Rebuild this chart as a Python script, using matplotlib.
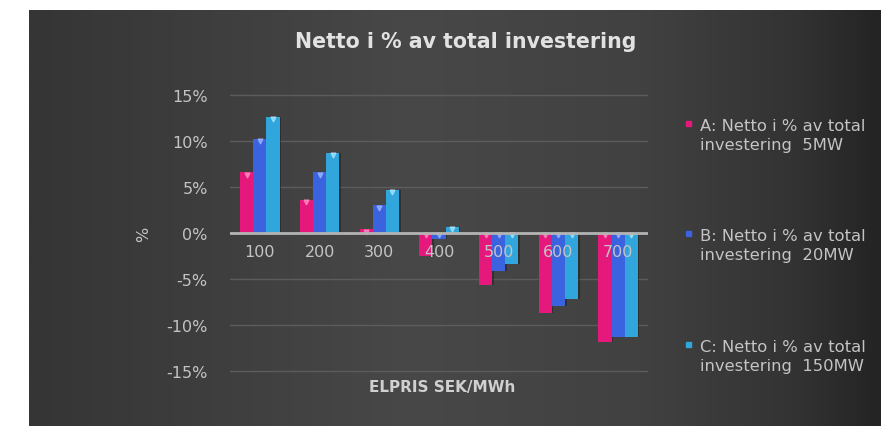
import numpy as np
import matplotlib
matplotlib.use("Agg")
import matplotlib.pyplot as plt
from matplotlib.colors import LinearSegmentedColormap

# Electricity price categories (SEK/MWh)
prices = ["100", "200", "300", "400", "500", "600", "700"]

# Net result as % of total investment
net_5mw = [6.6, 3.6, 0.4, -2.5, -5.7, -8.7, -11.8]
net_20mw = [10.2, 6.6, 3.0, -0.6, -4.1, -7.9, -11.3]
net_150mw = [12.6, 8.7, 4.7, 0.7, -3.4, -7.2, -11.3]

series_labels = [
    "A: Netto i % av total\ninvestering  5MW",
    "B: Netto i % av total\ninvestering  20MW",
    "C: Netto i % av total\ninvestering  150MW",
]
series_colors = ["#e5197c", "#3b62df", "#31a6dc"]
cap_colors = ["#ff8fc4", "#9fb6ff", "#a6e6ff"]

y_ticks = [15, 10, 5, 0, -5, -10, -15]
y_ticklabels = ["15%", "10%", "5%", "0%", "-5%", "-10%", "-15%"]

title = "Netto i % av total investering"
x_title = "ELPRIS SEK/MWh"

W, H = 881, 427
fig = plt.figure(figsize=(W / 100, H / 100), dpi=100, facecolor="white")

# Dark gradient panel behind the chart
bg = fig.add_axes([29 / W, 0, 1 - 29 / W, (H - 11) / H])
bg.set_axis_off()
grad_cmap = LinearSegmentedColormap.from_list(
    "panel",
    [(0.0, "#353535"), (0.45, "#484848"), (0.72, "#414141"), (0.9, "#333333"), (1.0, "#242424")],
)
bg.imshow(np.linspace(0, 1, 400)[None, :], cmap=grad_cmap, aspect="auto",
          extent=[0, 1, 0, 1])
bg.set_xlim(0, 1)
bg.set_ylim(0, 1)

# Plot area
ylo, yhi = -15.5, 15.5
px_per_pct = 9.2
zero_y = 234
top_px = zero_y - yhi * px_per_pct
bot_px = zero_y - ylo * px_per_pct
ax_left, ax_right = 230, 648
ax = fig.add_axes([ax_left / W, (H - bot_px) / H, (ax_right - ax_left) / W, (bot_px - top_px) / H])
ax.set_facecolor("none")
ax.set_xlim(-0.5, len(prices) - 0.5)
ax.set_ylim(ylo, yhi)

for t in y_ticks:
    if t == 0:
        continue
    ax.axhline(t, color="#5c5c5c", lw=1.0, zorder=1)

x = np.arange(len(prices))
bw = 0.22
all_series = [net_5mw, net_20mw, net_150mw]
for i, (vals, col, cap) in enumerate(zip(all_series, series_colors, cap_colors)):
    pos = x + (i - 1) * bw
    vals = np.asarray(vals)
    # soft shadow on the right side of each bar
    ax.bar(pos + bw * 0.12, vals, width=bw, color="#1c1c1c", alpha=0.5, lw=0, zorder=2)
    ax.bar(pos, vals, width=bw, color=col, lw=0, zorder=3)
    # light cap at the upper end of each bar
    tops = np.maximum(vals, 0)
    ax.plot(pos, tops - 0.25, ls="none", marker="v", ms=3.5, color=cap, alpha=0.75, zorder=4)

ax.axhline(0, color="#b4b4b4", lw=2.0, zorder=5)

for s in ax.spines.values():
    s.set_visible(False)
ax.set_xticks([])
ax.set_yticks(y_ticks)
ax.set_yticklabels(y_ticklabels, color="#c4c4c4", fontsize=11.5)
ax.tick_params(axis="y", length=0, pad=16)

# category labels sit just under the zero line
for xi, lab in zip(x, prices):
    ax.text(xi, -1.15, lab, ha="center", va="top", fontsize=11.5, color="#c4c4c4", zorder=6)

fig.text(144 / W, 1 - 234 / H, "%", rotation=90, ha="center", va="center",
         fontsize=11.5, color="#c4c4c4")
fig.text(442 / W, 1 - 388 / H, x_title, ha="center", va="center",
         fontsize=11, color="#d0d0d0", fontweight="bold")
fig.text(466 / W, 1 - 42 / H, title, ha="center", va="center",
         fontsize=14.8, color="#e2e2e2", fontweight="semibold")

# Legend entries to the right of the plot
legend_y = [136, 246, 357]
for lab, col, ly in zip(series_labels, series_colors, legend_y):
    fig.text(700 / W, 1 - ly / H, lab, ha="left", va="center", fontsize=11.8,
             color="#c4c4c4", linespacing=1.4)
    fig.patches.append(plt.Rectangle((686 / W, 1 - (ly - 9) / H), 5 / W, 5 / H,
                                     transform=fig.transFigure, color=col))

fig.savefig("out.png", dpi=100, facecolor="white")
